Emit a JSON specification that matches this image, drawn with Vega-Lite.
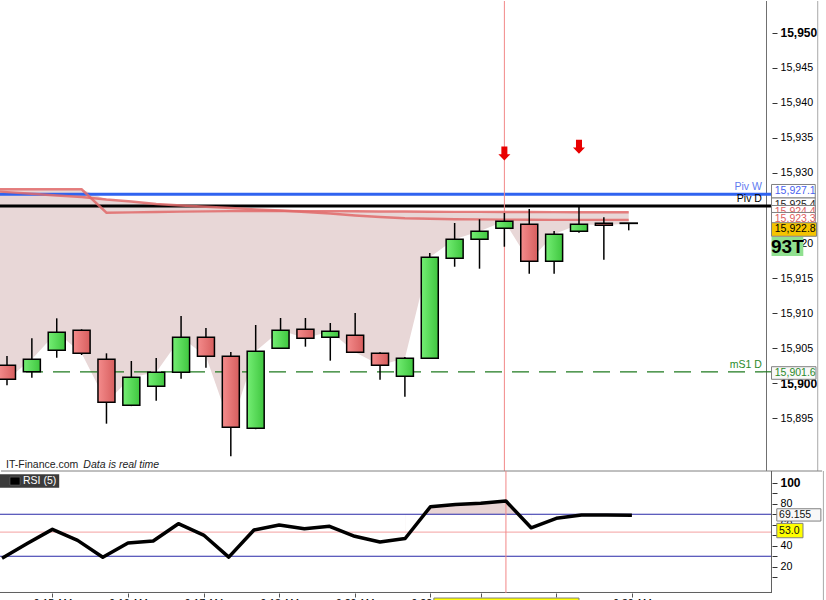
{
"$schema": "https://vega.github.io/schema/vega-lite/v6.json",
"padding": 0,
"spacing": 0,
"bounds": "flush",
"background": "white",
"config": {"view": {"stroke": null}, "font": "Liberation Sans", "axis": {"labelFont": "Liberation Sans", "grid": false}},
"datasets": {
"candles": [
{"i":1,"o":15902.53,"h":15903.86,"l":15899.67,"c":15900.53},
{"i":2,"o":15901.61,"h":15906.39,"l":15900.76,"c":15903.39},
{"i":3,"o":15904.67,"h":15909.24,"l":15903.61,"c":15907.24},
{"i":4,"o":15907.53,"h":15907.67,"l":15904.0,"c":15904.24},
{"i":5,"o":15903.39,"h":15904.24,"l":15894.19,"c":15897.24},
{"i":6,"o":15896.81,"h":15903.14,"l":15896.7,"c":15900.81},
{"i":7,"o":15899.53,"h":15903.57,"l":15897.47,"c":15901.53},
{"i":8,"o":15901.53,"h":15909.57,"l":15900.61,"c":15906.53},
{"i":9,"o":15906.53,"h":15907.86,"l":15902.19,"c":15903.81},
{"i":10,"o":15903.81,"h":15904.43,"l":15889.53,"c":15893.67},
{"i":11,"o":15893.53,"h":15908.29,"l":15893.4,"c":15904.53},
{"i":12,"o":15904.96,"h":15909.29,"l":15904.9,"c":15907.53},
{"i":13,"o":15907.67,"h":15909.29,"l":15905.19,"c":15906.39},
{"i":14,"o":15906.53,"h":15908.57,"l":15903.19,"c":15907.39},
{"i":15,"o":15906.81,"h":15910.0,"l":15904.3,"c":15904.39},
{"i":16,"o":15904.24,"h":15904.39,"l":15900.47,"c":15902.53},
{"i":17,"o":15900.96,"h":15903.71,"l":15898.04,"c":15903.53},
{"i":18,"o":15903.53,"h":15918.57,"l":15903.5,"c":15917.96},
{"i":19,"o":15917.81,"h":15922.86,"l":15916.61,"c":15920.53},
{"i":20,"o":15920.53,"h":15923.39,"l":15916.33,"c":15921.67},
{"i":21,"o":15922.1,"h":15924.29,"l":15919.47,"c":15923.1},
{"i":22,"o":15922.67,"h":15924.86,"l":15915.61,"c":15917.39},
{"i":23,"o":15917.39,"h":15921.71,"l":15915.61,"c":15921.24},
{"i":24,"o":15921.67,"h":15925.14,"l":15921.47,"c":15922.67},
{"i":25,"o":15922.81,"h":15923.67,"l":15917.61,"c":15922.53},
{"i":26,"o":15922.85,"h":15922.85,"l":15921.81,"c":15922.8}
],
"ma": [
{"i":0,"a":15927.67,"b":15927.5,"top":15927.67,"c":15901.0},
{"i":1,"a":15927.67,"b":15927.27,"top":15927.67,"c":15900.53},
{"i":2,"a":15927.67,"b":15927.03,"top":15927.67,"c":15903.39},
{"i":3,"a":15927.67,"b":15926.79,"top":15927.67,"c":15907.24},
{"i":4,"a":15927.67,"b":15926.57,"top":15927.67,"c":15904.24},
{"i":5,"a":15924.33,"b":15926.21,"top":15926.21,"c":15897.24},
{"i":6,"a":15924.38,"b":15925.93,"top":15925.93,"c":15900.81},
{"i":7,"a":15924.43,"b":15925.57,"top":15925.57,"c":15901.53},
{"i":8,"a":15924.48,"b":15925.36,"top":15925.36,"c":15906.53},
{"i":9,"a":15924.52,"b":15925.17,"top":15925.17,"c":15903.81},
{"i":10,"a":15924.55,"b":15925.0,"top":15925.0,"c":15893.67},
{"i":11,"a":15924.57,"b":15924.81,"top":15924.81,"c":15904.53},
{"i":12,"a":15924.57,"b":15924.64,"top":15924.64,"c":15907.53},
{"i":13,"a":15924.56,"b":15924.43,"top":15924.56,"c":15906.39},
{"i":14,"a":15924.55,"b":15924.21,"top":15924.55,"c":15907.39},
{"i":15,"a":15924.53,"b":15923.93,"top":15924.53,"c":15904.39},
{"i":16,"a":15924.51,"b":15923.71,"top":15924.51,"c":15902.53},
{"i":17,"a":15924.49,"b":15923.53,"top":15924.49,"c":15903.53},
{"i":18,"a":15924.47,"b":15923.46,"top":15924.47,"c":15917.96},
{"i":19,"a":15924.45,"b":15923.4,"top":15924.45,"c":15920.53},
{"i":20,"a":15924.44,"b":15923.37,"top":15924.44,"c":15921.67},
{"i":21,"a":15924.43,"b":15923.34,"top":15924.43,"c":15923.1},
{"i":22,"a":15924.42,"b":15923.32,"top":15924.42,"c":15917.39},
{"i":23,"a":15924.41,"b":15923.31,"top":15924.41,"c":15921.24},
{"i":24,"a":15924.4,"b":15923.3,"top":15924.4,"c":15922.67},
{"i":25,"a":15924.4,"b":15923.3,"top":15924.4,"c":15922.53},
{"i":26,"a":15924.4,"b":15923.3,"top":15924.4,"c":15922.8}
],
"rsi": [
{"i":1,"r":28.0},{"i":2,"r":42.1},{"i":3,"r":55.6},{"i":4,"r":45.1},{"i":5,"r":29.0},
{"i":6,"r":42.6},{"i":7,"r":44.5},{"i":8,"r":61.0},{"i":9,"r":50.2},{"i":10,"r":29.2},
{"i":11,"r":55.0},{"i":12,"r":59.7},{"i":13,"r":56.2},{"i":14,"r":58.5},{"i":15,"r":49.0},
{"i":16,"r":43.5},{"i":17,"r":46.9},{"i":18,"r":77.1},{"i":19,"r":79.4},{"i":20,"r":80.4},
{"i":21,"r":82.6},{"i":22,"r":57.1},{"i":23,"r":66.1},{"i":24,"r":69.2},{"i":25,"r":69.2},{"i":26,"r":69.155}
]
},
"vconcat": [
{
"width": 772, "height": 470,
"resolve": {"axis": {"x": "independent", "y": "independent"}},
"layer": [
{"data":{"name":"ma"},"mark":{"type":"area","color":"#e8d7d7","clip":true},
 "encoding":{"x":{"field":"i","type":"quantitative","scale":{"domain":[0.92,31.56],"nice":false,"zero":false},"axis":null},
 "y":{"field":"top","type":"quantitative","scale":{"domain":[15887.43,15954.57],"nice":false,"zero":false},
  "axis":{"orient":"right","title":null,"domain":false,"values":[15895,15900,15905,15910,15915,15920,15925,15930,15935,15940,15945,15950],"format":",","tickSize":5,"tickColor":"#333333","labelPadding":3,"labelColor":"black",
   "labelFontSize":{"condition":{"test":"datum.value % 50 === 0","value":12},"value":10.7},
   "labelFontWeight":{"condition":{"test":"datum.value % 50 === 0","value":"bold"},"value":"normal"}}},
 "y2":{"field":"c"}}},
{"data":{"values":[{"i":31.54}]},"mark":{"type":"rule","color":"#707070","strokeWidth":1,"clip":true},
 "encoding":{"x":{"field":"i","type":"quantitative","scale":{"domain":[0.92,31.56],"nice":false,"zero":false},"axis":null}}},
{"data":{"values":[{"i":33.6}]},"mark":{"type":"rule","color":"#a8a8a8","strokeWidth":1},
 "encoding":{"x":{"field":"i","type":"quantitative","scale":{"domain":[0.92,31.56],"nice":false,"zero":false},"axis":null}}},
{"data":{"values":[{"p":15926.96}]},"mark":{"type":"rule","color":"#2f63f0","strokeWidth":3,"clip":true},
 "encoding":{"y":{"field":"p","type":"quantitative","scale":{"domain":[15887.43,15954.57],"nice":false,"zero":false},"axis":null}}},
{"data":{"values":[{"p":15925.29}]},"mark":{"type":"rule","color":"black","strokeWidth":3,"clip":true},
 "encoding":{"y":{"field":"p","type":"quantitative","scale":{"domain":[15887.43,15954.57],"nice":false,"zero":false},"axis":null}}},
{"data":{"values":[{"p":15901.6}]},"mark":{"type":"rule","color":"#1f7a1f","strokeWidth":1.2,"strokeDash":[17,10],"clip":true},
 "encoding":{"y":{"field":"p","type":"quantitative","scale":{"domain":[15887.43,15954.57],"nice":false,"zero":false},"axis":null}}},
{"data":{"values":[{"i":21}]},"mark":{"type":"rule","color":"#f28888","strokeWidth":1,"clip":true},
 "encoding":{"x":{"field":"i","type":"quantitative","scale":{"domain":[0.92,31.56],"nice":false,"zero":false},"axis":null}}},
{"data":{"name":"ma"},"mark":{"type":"line","color":"#e06a6a","strokeWidth":2.4,"opacity":0.85,"clip":true},
 "encoding":{"x":{"field":"i","type":"quantitative","scale":{"domain":[0.92,31.56],"nice":false,"zero":false},"axis":null},
 "y":{"field":"a","type":"quantitative","scale":{"domain":[15887.43,15954.57],"nice":false,"zero":false},"axis":null}}},
{"data":{"name":"ma"},"mark":{"type":"line","color":"#e06a6a","strokeWidth":2.4,"opacity":0.85,"clip":true},
 "encoding":{"x":{"field":"i","type":"quantitative","scale":{"domain":[0.92,31.56],"nice":false,"zero":false},"axis":null},
 "y":{"field":"b","type":"quantitative","scale":{"domain":[15887.43,15954.57],"nice":false,"zero":false},"axis":null}}},
{"data":{"name":"candles"},"mark":{"type":"rule","color":"black","strokeWidth":1.5,"clip":true},
 "encoding":{"x":{"field":"i","type":"quantitative","scale":{"domain":[0.92,31.56],"nice":false,"zero":false},"axis":null},
 "y":{"field":"l","type":"quantitative","scale":{"domain":[15887.43,15954.57],"nice":false,"zero":false},"axis":null},"y2":{"field":"h"}}},
{"data":{"name":"candles"},"transform":[{"filter":"datum.c >= datum.o"}],
 "mark":{"type":"bar","width":17,"clip":true,"stroke":"black","strokeWidth":1.5,"fill":{"gradient":"linear","x1":0,"y1":0,"x2":1,"y2":0,"stops":[{"offset":0,"color":"#74ee74"},{"offset":1,"color":"#3fc63f"}]}},
 "encoding":{"x":{"field":"i","type":"quantitative","scale":{"domain":[0.92,31.56],"nice":false,"zero":false},"axis":null},
 "y":{"field":"o","type":"quantitative","scale":{"domain":[15887.43,15954.57],"nice":false,"zero":false},"axis":null},"y2":{"field":"c"}}},
{"data":{"name":"candles"},"transform":[{"filter":"datum.c < datum.o"}],
 "mark":{"type":"bar","width":17,"clip":true,"stroke":"black","strokeWidth":1.5,"fill":{"gradient":"linear","x1":0,"y1":0,"x2":1,"y2":0,"stops":[{"offset":0,"color":"#f48c8c"},{"offset":1,"color":"#d75e5e"}]}},
 "encoding":{"x":{"field":"i","type":"quantitative","scale":{"domain":[0.92,31.56],"nice":false,"zero":false},"axis":null},
 "y":{"field":"o","type":"quantitative","scale":{"domain":[15887.43,15954.57],"nice":false,"zero":false},"axis":null},"y2":{"field":"c"}}},
{"data":{"values":[{"i":21,"p":15932.79},{"i":24,"p":15933.74}]},
 "mark":{"type":"point","filled":true,"opacity":1,"color":"#e80000","size":196,"shape":"M-0.43,-1L0.43,-1L0.43,0.1L0.86,0.1L0,1L-0.86,0.1L-0.43,0.1Z"},
 "encoding":{"x":{"field":"i","type":"quantitative","scale":{"domain":[0.92,31.56],"nice":false,"zero":false},"axis":null},
 "y":{"field":"p","type":"quantitative","scale":{"domain":[15887.43,15954.57],"nice":false,"zero":false},"axis":null}}},
{"data":{"values":[{"t":"Piv W","p":15927.97,"k":"W"},{"t":"Piv D","p":15926.24,"k":"D"},{"t":"mS1 D","p":15902.57,"k":"S"}]},
 "mark":{"type":"text","align":"right","baseline":"middle","fontSize":10.5},
 "encoding":{"x":{"datum":31.357,"type":"quantitative","scale":{"domain":[0.92,31.56],"nice":false,"zero":false},"axis":null},
 "y":{"field":"p","type":"quantitative","scale":{"domain":[15887.43,15954.57],"nice":false,"zero":false},"axis":null},
 "text":{"field":"t"},
 "color":{"field":"k","type":"nominal","scale":{"domain":["W","D","S"],"range":["#5f7cf0","#000000","#2a8a2a"]},"legend":null}}},
{"data":{"values":[{"t":"IT-Finance.com","p":15888.29}]},"mark":{"type":"text","align":"left","baseline":"middle","fontSize":10.5,"color":"#222222"},
 "encoding":{"x":{"datum":0.96,"type":"quantitative","scale":{"domain":[0.92,31.56],"nice":false,"zero":false},"axis":null},
 "y":{"field":"p","type":"quantitative","scale":{"domain":[15887.43,15954.57],"nice":false,"zero":false},"axis":null},"text":{"field":"t"}}},
{"data":{"values":[{"t":"Data is real time","p":15888.29}]},"mark":{"type":"text","align":"left","baseline":"middle","fontSize":10.5,"fontStyle":"italic","color":"#222222"},
 "encoding":{"x":{"datum":4.07,"type":"quantitative","scale":{"domain":[0.92,31.56],"nice":false,"zero":false},"axis":null},
 "y":{"field":"p","type":"quantitative","scale":{"domain":[15887.43,15954.57],"nice":false,"zero":false},"axis":null},"text":{"field":"t"}}},
{"data":{"values":[{"y1":15928.36,"y2":15926.43}]},"mark":{"type":"rect","fill":"white","stroke":"#808080","strokeWidth":1},
 "encoding":{"x":{"datum":31.742,"type":"quantitative","scale":{"domain":[0.92,31.56],"nice":false,"zero":false},"axis":null},"x2":{"datum":33.5},
 "y":{"field":"y1","type":"quantitative","scale":{"domain":[15887.43,15954.57],"nice":false,"zero":false},"axis":null},"y2":{"field":"y2"}}},
{"data":{"values":[{"t":"15,927.1","p":15927.39}]},"mark":{"type":"text","align":"left","baseline":"middle","fontSize":10.5,"color":"#4a62f0"},
 "encoding":{"x":{"datum":31.873,"type":"quantitative","scale":{"domain":[0.92,31.56],"nice":false,"zero":false},"axis":null},
 "y":{"field":"p","type":"quantitative","scale":{"domain":[15887.43,15954.57],"nice":false,"zero":false},"axis":null},"text":{"field":"t"}}},
{"data":{"values":[{"y1":15926.43,"y2":15924.5}]},"mark":{"type":"rect","fill":"white","stroke":"#808080","strokeWidth":1},
 "encoding":{"x":{"datum":31.742,"type":"quantitative","scale":{"domain":[0.92,31.56],"nice":false,"zero":false},"axis":null},"x2":{"datum":33.5},
 "y":{"field":"y1","type":"quantitative","scale":{"domain":[15887.43,15954.57],"nice":false,"zero":false},"axis":null},"y2":{"field":"y2"}}},
{"data":{"values":[{"t":"15,925.4","p":15925.46}]},"mark":{"type":"text","align":"left","baseline":"middle","fontSize":10.5,"color":"#222222"},
 "encoding":{"x":{"datum":31.873,"type":"quantitative","scale":{"domain":[0.92,31.56],"nice":false,"zero":false},"axis":null},
 "y":{"field":"p","type":"quantitative","scale":{"domain":[15887.43,15954.57],"nice":false,"zero":false},"axis":null},"text":{"field":"t"}}},
{"data":{"values":[{"y1":15925.36,"y2":15923.43}]},"mark":{"type":"rect","fill":"white","stroke":"#808080","strokeWidth":1},
 "encoding":{"x":{"datum":31.742,"type":"quantitative","scale":{"domain":[0.92,31.56],"nice":false,"zero":false},"axis":null},"x2":{"datum":33.5},
 "y":{"field":"y1","type":"quantitative","scale":{"domain":[15887.43,15954.57],"nice":false,"zero":false},"axis":null},"y2":{"field":"y2"}}},
{"data":{"values":[{"t":"15,924.4","p":15924.39}]},"mark":{"type":"text","align":"left","baseline":"middle","fontSize":10.5,"color":"#e06060"},
 "encoding":{"x":{"datum":31.873,"type":"quantitative","scale":{"domain":[0.92,31.56],"nice":false,"zero":false},"axis":null},
 "y":{"field":"p","type":"quantitative","scale":{"domain":[15887.43,15954.57],"nice":false,"zero":false},"axis":null},"text":{"field":"t"}}},
{"data":{"values":[{"y1":15924.36,"y2":15922.43}]},"mark":{"type":"rect","fill":"white","stroke":"#808080","strokeWidth":1},
 "encoding":{"x":{"datum":31.742,"type":"quantitative","scale":{"domain":[0.92,31.56],"nice":false,"zero":false},"axis":null},"x2":{"datum":33.5},
 "y":{"field":"y1","type":"quantitative","scale":{"domain":[15887.43,15954.57],"nice":false,"zero":false},"axis":null},"y2":{"field":"y2"}}},
{"data":{"values":[{"t":"15,923.3","p":15923.39}]},"mark":{"type":"text","align":"left","baseline":"middle","fontSize":10.5,"color":"#e06060"},
 "encoding":{"x":{"datum":31.873,"type":"quantitative","scale":{"domain":[0.92,31.56],"nice":false,"zero":false},"axis":null},
 "y":{"field":"p","type":"quantitative","scale":{"domain":[15887.43,15954.57],"nice":false,"zero":false},"axis":null},"text":{"field":"t"}}},
{"data":{"values":[{"y1":15922.9,"y2":15920.96}]},"mark":{"type":"rect","fill":"#f5c400","stroke":"#808080","strokeWidth":1},
 "encoding":{"x":{"datum":31.742,"type":"quantitative","scale":{"domain":[0.92,31.56],"nice":false,"zero":false},"axis":null},"x2":{"datum":33.55},
 "y":{"field":"y1","type":"quantitative","scale":{"domain":[15887.43,15954.57],"nice":false,"zero":false},"axis":null},"y2":{"field":"y2"}}},
{"data":{"values":[{"t":"15,922.8","p":15921.93}]},"mark":{"type":"text","align":"left","baseline":"middle","fontSize":10.5,"color":"#000000"},
 "encoding":{"x":{"datum":31.873,"type":"quantitative","scale":{"domain":[0.92,31.56],"nice":false,"zero":false},"axis":null},
 "y":{"field":"p","type":"quantitative","scale":{"domain":[15887.43,15954.57],"nice":false,"zero":false},"axis":null},"text":{"field":"t"}}},
{"data":{"values":[{"y1":15920.86,"y2":15918.14}]},"mark":{"type":"rect","fill":"#90e090"},
 "encoding":{"x":{"datum":31.742,"type":"quantitative","scale":{"domain":[0.92,31.56],"nice":false,"zero":false},"axis":null},"x2":{"datum":33.02},
 "y":{"field":"y1","type":"quantitative","scale":{"domain":[15887.43,15954.57],"nice":false,"zero":false},"axis":null},"y2":{"field":"y2"}}},
{"data":{"values":[{"t":"93T","p":15919.5}]},"mark":{"type":"text","align":"center","baseline":"middle","fontSize":19,"fontWeight":"bold","color":"#000000"},
 "encoding":{"x":{"datum":32.38,"type":"quantitative","scale":{"domain":[0.92,31.56],"nice":false,"zero":false},"axis":null},
 "y":{"field":"p","type":"quantitative","scale":{"domain":[15887.43,15954.57],"nice":false,"zero":false},"axis":null},"text":{"field":"t"}}},
{"data":{"values":[{"y1":15902.33,"y2":15900.53}]},"mark":{"type":"rect","fill":"#f8f8f8","stroke":"#808080","strokeWidth":1},
 "encoding":{"x":{"datum":31.742,"type":"quantitative","scale":{"domain":[0.92,31.56],"nice":false,"zero":false},"axis":null},"x2":{"datum":33.53},
 "y":{"field":"y1","type":"quantitative","scale":{"domain":[15887.43,15954.57],"nice":false,"zero":false},"axis":null},"y2":{"field":"y2"}}},
{"data":{"values":[{"t":"15,901.6","p":15901.43}]},"mark":{"type":"text","align":"left","baseline":"middle","fontSize":10.5,"color":"#2a8a2a"},
 "encoding":{"x":{"datum":31.873,"type":"quantitative","scale":{"domain":[0.92,31.56],"nice":false,"zero":false},"axis":null},
 "y":{"field":"p","type":"quantitative","scale":{"domain":[15887.43,15954.57],"nice":false,"zero":false},"axis":null},"text":{"field":"t"}}}
]
},
{
"width": 772, "height": 122,
"resolve": {"axis": {"x": "independent", "y": "independent"}},
"layer": [
{"data":{"name":"rsi"},"transform":[{"filter":"datum.i >= 17 && datum.i <= 22"}],"mark":{"type":"area","color":"#e8d4d4"},
 "encoding":{"x":{"field":"i","type":"quantitative","scale":{"domain":[0.92,31.56],"nice":false,"zero":false},
  "axis":{"orient":"bottom","title":null,"domain":false,"values":[3,6,9,12,15,18,20,23,26],
   "labelExpr":"datum.value==3?'9:15 AM':datum.value==6?'9:16 AM':datum.value==9?'9:17 AM':datum.value==12?'9:18 AM':datum.value==15?'9:20 AM':datum.value==18?'9:22 AM':datum.value==20?'9:24 AM':datum.value==23?'9:27 AM':'9:30 AM'",
   "tickSize":4,"tickColor":"#555555","labelPadding":1,"labelFontSize":10.5,"labelColor":"black","labelOverlap":false,"labelFlush":false}},
 "y":{"field":"r","type":"quantitative","scale":{"domain":[-5,111.2],"nice":false,"zero":false},
  "axis":{"orient":"right","title":null,"domain":false,"values":[10,20,30,40,50,60,70,80,90,100],"labelExpr":"datum.value % 20 == 0 ? datum.label : ''",
   "tickSize":5,"tickColor":"#333333","labelPadding":3,"labelColor":"black",
   "labelFontSize":{"condition":{"test":"datum.value == 100","value":12},"value":10.7},
   "labelFontWeight":{"condition":{"test":"datum.value == 100","value":"bold"},"value":"normal"}}},
 "y2":{"datum":70}}},
{"data":{"name":"rsi"},"transform":[{"filter":"datum.i >= 17 && datum.i <= 22"}],"mark":{"type":"area","color":"white"},
 "encoding":{"x":{"field":"i","type":"quantitative","scale":{"domain":[0.92,31.56],"nice":false,"zero":false},"axis":null},
 "y":{"datum":70,"type":"quantitative","scale":{"domain":[-5,111.2],"nice":false,"zero":false},"axis":null},"y2":{"datum":-5}}},
{"data":{"values":[{"r":70},{"r":30}]},"mark":{"type":"rule","color":"#2a2aa8","strokeWidth":1,"clip":true},
 "encoding":{"y":{"field":"r","type":"quantitative","scale":{"domain":[-5,111.2],"nice":false,"zero":false},"axis":null}}},
{"data":{"values":[{"r":53}]},"mark":{"type":"rule","color":"#f4a0a0","strokeWidth":1,"clip":true},
 "encoding":{"y":{"field":"r","type":"quantitative","scale":{"domain":[-5,111.2],"nice":false,"zero":false},"axis":null}}},
{"data":{"values":[{"r":111.2}]},"mark":{"type":"rule","color":"#808080","strokeWidth":1},
 "encoding":{"x":{"datum":0.96,"type":"quantitative","scale":{"domain":[0.92,31.56],"nice":false,"zero":false},"axis":null},"x2":{"datum":33.55},
 "y":{"field":"r","type":"quantitative","scale":{"domain":[-5,111.2],"nice":false,"zero":false},"axis":null}}},
{"data":{"values":[{"r":-4.52}]},"mark":{"type":"rule","color":"#606060","strokeWidth":1,"clip":true},
 "encoding":{"y":{"field":"r","type":"quantitative","scale":{"domain":[-5,111.2],"nice":false,"zero":false},"axis":null}}},
{"data":{"values":[{"i":31.54}]},"mark":{"type":"rule","color":"#606060","strokeWidth":1,"clip":true},
 "encoding":{"x":{"field":"i","type":"quantitative","scale":{"domain":[0.92,31.56],"nice":false,"zero":false},"axis":null}}},
{"data":{"values":[{"i":33.6,"r1":111.2,"r2":-13}]},"mark":{"type":"rule","color":"#a8a8a8","strokeWidth":1},
 "encoding":{"x":{"field":"i","type":"quantitative","scale":{"domain":[0.92,31.56],"nice":false,"zero":false},"axis":null},
 "y":{"field":"r1","type":"quantitative","scale":{"domain":[-5,111.2],"nice":false,"zero":false},"axis":null},"y2":{"field":"r2"}}},
{"data":{"values":[{"i":21}]},"mark":{"type":"rule","color":"#f28888","strokeWidth":1,"clip":true},
 "encoding":{"x":{"field":"i","type":"quantitative","scale":{"domain":[0.92,31.56],"nice":false,"zero":false},"axis":null}}},
{"data":{"name":"rsi"},"mark":{"type":"line","color":"black","strokeWidth":3.5,"strokeJoin":"round","clip":true},
 "encoding":{"x":{"field":"i","type":"quantitative","scale":{"domain":[0.92,31.56],"nice":false,"zero":false},"axis":null},
 "y":{"field":"r","type":"quantitative","scale":{"domain":[-5,111.2],"nice":false,"zero":false},"axis":null}}},
{"data":{"values":[{"y1":108.0,"y2":95.24}]},"mark":{"type":"rect","fill":"#3b3b3b"},
 "encoding":{"x":{"datum":0.92,"type":"quantitative","scale":{"domain":[0.92,31.56],"nice":false,"zero":false},"axis":null},"x2":{"datum":3.27},
 "y":{"field":"y1","type":"quantitative","scale":{"domain":[-5,111.2],"nice":false,"zero":false},"axis":null},"y2":{"field":"y2"}}},
{"data":{"values":[{"y1":105.4,"y2":97.8}]},"mark":{"type":"rect","fill":"black","stroke":"#777777","strokeWidth":0.5},
 "encoding":{"x":{"datum":1.317,"type":"quantitative","scale":{"domain":[0.92,31.56],"nice":false,"zero":false},"axis":null},"x2":{"datum":1.714},
 "y":{"field":"y1","type":"quantitative","scale":{"domain":[-5,111.2],"nice":false,"zero":false},"axis":null},"y2":{"field":"y2"}}},
{"data":{"values":[{"t":"RSI (5)","r":101.6}]},"mark":{"type":"text","align":"left","baseline":"middle","fontSize":10.5,"color":"white"},
 "encoding":{"x":{"datum":1.833,"type":"quantitative","scale":{"domain":[0.92,31.56],"nice":false,"zero":false},"axis":null},
 "y":{"field":"r","type":"quantitative","scale":{"domain":[-5,111.2],"nice":false,"zero":false},"axis":null},"text":{"field":"t"}}},
{"data":{"values":[{"y1":75.24,"y2":63.52}]},"mark":{"type":"rect","fill":"#f8f8f8","stroke":"#808080","strokeWidth":1},
 "encoding":{"x":{"datum":31.75,"type":"quantitative","scale":{"domain":[0.92,31.56],"nice":false,"zero":false},"axis":null},"x2":{"datum":33.5},
 "y":{"field":"y1","type":"quantitative","scale":{"domain":[-5,111.2],"nice":false,"zero":false},"axis":null},"y2":{"field":"y2"}}},
{"data":{"values":[{"t":"69.155","r":69.43}]},"mark":{"type":"text","align":"left","baseline":"middle","fontSize":10.5,"color":"#111111"},
 "encoding":{"x":{"datum":31.84,"type":"quantitative","scale":{"domain":[0.92,31.56],"nice":false,"zero":false},"axis":null},
 "y":{"field":"r","type":"quantitative","scale":{"domain":[-5,111.2],"nice":false,"zero":false},"axis":null},"text":{"field":"t"}}},
{"data":{"values":[{"y1":61.33,"y2":47.62}]},"mark":{"type":"rect","fill":"#ffff00","stroke":"#808080","strokeWidth":1},
 "encoding":{"x":{"datum":31.75,"type":"quantitative","scale":{"domain":[0.92,31.56],"nice":false,"zero":false},"axis":null},"x2":{"datum":32.79},
 "y":{"field":"y1","type":"quantitative","scale":{"domain":[-5,111.2],"nice":false,"zero":false},"axis":null},"y2":{"field":"y2"}}},
{"data":{"values":[{"t":"53.0","r":54.48}]},"mark":{"type":"text","align":"left","baseline":"middle","fontSize":10.5,"color":"#111111"},
 "encoding":{"x":{"datum":31.84,"type":"quantitative","scale":{"domain":[0.92,31.56],"nice":false,"zero":false},"axis":null},
 "y":{"field":"r","type":"quantitative","scale":{"domain":[-5,111.2],"nice":false,"zero":false},"axis":null},"text":{"field":"t"}}},
{"data":{"values":[{"y1":-9.8,"y2":-22}]},"mark":{"type":"rect","fill":"#ffff00","stroke":"#808080","strokeWidth":1},
 "encoding":{"x":{"datum":18.14,"type":"quantitative","scale":{"domain":[0.92,31.56],"nice":false,"zero":false},"axis":null},"x2":{"datum":23.9},
 "y":{"field":"y1","type":"quantitative","scale":{"domain":[-5,111.2],"nice":false,"zero":false},"axis":null},"y2":{"field":"y2"}}}
]
}
]
}
